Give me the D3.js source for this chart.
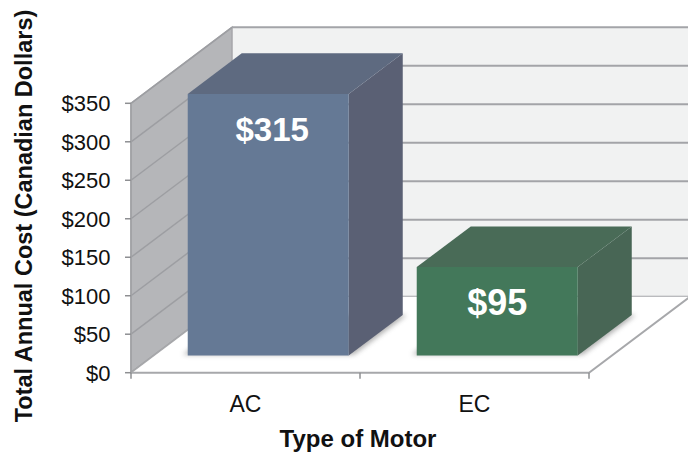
<!DOCTYPE html>
<html><head><meta charset="utf-8">
<script src="https://cdn.jsdelivr.net/npm/d3@7"></script>
<style>html,body{margin:0;padding:0;background:#fff;}svg{display:block;font-family:"Liberation Sans",Arial,Helvetica,sans-serif;}</style>
</head><body>
<script>
// ---- data ----
const categories = ["AC", "EC"];
const barValues = [340, 115];          // bar heights
const valueLabels = ["$315", "$95"];   // labels printed on the bars
const yTicks = [0, 50, 100, 150, 200, 250, 300, 350];
const yTickLabels = ["$0", "$50", "$100", "$150", "$200", "$250", "$300", "$350"];
const yTitle = "Total Annual Cost (Canadian Dollars)";
const xTitle = "Type of Motor";

const W = 688, H = 454;
const svg = d3.select("body").append("svg").attr("width", W).attr("height", H);

const x = d3.scaleBand().domain(categories).range([131, 589]).padding(0);
const y = d3.scaleLinear().domain([0, 350]).range([372.7, 103.3]);
const DX = 101, DY = -76;                 // full-depth offset
const P = (px, v, z) => [px + z * DX, y(v) + z * DY];
const poly = pts => pts.map(p => p.join(",")).join(" ");

const defs = svg.append("defs");
const f = defs.append("filter").attr("id", "sh").attr("x", "-20%").attr("y", "-20%").attr("width", "140%").attr("height", "140%");
f.append("feGaussianBlur").attr("stdDeviation", 2.5);

const x0 = x.range()[0], x1 = x.range()[1];
const vMax = y.domain()[1];

// back wall
svg.append("polygon").attr("points", poly([P(x0, 0, 1), P(x1, 0, 1), P(x1, vMax, 1), P(x0, vMax, 1)]))
  .attr("fill", "#f1f2f2");
// back wall gridlines
svg.selectAll(".bg").data(yTicks).enter().append("line")
  .attr("x1", d => P(x0, d, 1)[0]).attr("y1", d => P(x0, d, 1)[1])
  .attr("x2", d => P(x1, d, 1)[0]).attr("y2", d => P(x1, d, 1)[1])
  .attr("stroke", "#a3a4a8").attr("stroke-width", 2);

// side wall
svg.append("polygon").attr("points", poly([P(x0, 0, 0), P(x0, 0, 1), P(x0, vMax, 1), P(x0, vMax, 0)]))
  .attr("fill", "#b5b6b9").attr("stroke", "#a6a7aa").attr("stroke-width", 1.5);
svg.selectAll(".sg").data(yTicks).enter().append("line")
  .attr("x1", d => P(x0, d, 0)[0]).attr("y1", d => P(x0, d, 0)[1])
  .attr("x2", d => P(x0, d, 1)[0]).attr("y2", d => P(x0, d, 1)[1])
  .attr("stroke", "#9d9ea2").attr("stroke-width", 1.5);

// floor
svg.append("polygon").attr("points", poly([P(x0, 0, 0), P(x1, 0, 0), P(x1, 0, 1), P(x0, 0, 1)]))
  .attr("fill", "#ffffff");
svg.append("polyline").attr("points", poly([P(x0, 0, 0), P(x1, 0, 0), P(x1, 0, 1)]))
  .attr("fill", "none").attr("stroke", "#a7a8ab").attr("stroke-width", 2);
svg.append("line").attr("x1", P(x0, 0, 0)[0]).attr("y1", P(x0, 0, 0)[1])
  .attr("x2", P(x0, 0, 1)[0]).attr("y2", P(x0, 0, 1)[1]).attr("stroke", "#a7a8ab").attr("stroke-width", 1.5);

// front y axis line + ticks
svg.append("line").attr("x1", x0).attr("x2", x0).attr("y1", y(0)).attr("y2", y(vMax))
  .attr("stroke", "#9fa0a3").attr("stroke-width", 1.5);
svg.selectAll(".yt").data(yTicks).enter().append("line")
  .attr("x1", x0 - 6).attr("x2", x0).attr("y1", d => y(d)).attr("y2", d => y(d))
  .attr("stroke", "#8e8f92").attr("stroke-width", 1.5);
svg.selectAll(".ytl").data(yTicks).enter().append("text")
  .attr("x", 110.5).attr("y", d => y(d)).attr("dy", "0.36em")
  .attr("text-anchor", "end").attr("font-size", 22).attr("fill", "#111")
  .text((d, i) => yTickLabels[i]);

// x ticks at category boundaries
const bounds = categories.map(c => x(c)).concat([x1]);
svg.selectAll(".xt").data(bounds).enter().append("line")
  .attr("x1", d => d).attr("x2", d => d).attr("y1", y(0)).attr("y2", y(0) + 6)
  .attr("stroke", "#8e8f92").attr("stroke-width", 1.5);
svg.selectAll(".xtl").data(categories).enter().append("text")
  .attr("x", d => x(d) + x.bandwidth() / 2).attr("y", 412)
  .attr("text-anchor", "middle").attr("font-size", 23).attr("fill", "#111").text(d => d);

// bars
const zF = 0.225, zB = 0.76, bwFrac = 0.703;
const colors = [
  { front: "#657995", top: "#5e6a80", side: "#5a6074" },
  { front: "#43785a", top: "#496b57", side: "#486655" }
];
categories.forEach((c, i) => {
  const v = barValues[i];
  const bw = x.bandwidth() * bwFrac;
  const L = x(c) + (x.bandwidth() - bw) / 2, R = L + bw;
  const g = svg.append("g");
  // shadow on floor
  g.append("polygon").attr("points", poly([P(L - 6, 0, zF + 0.01), P(R + 4, 0, zF + 0.01), P(R + 4, 0, zB), P(L - 6, 0, zB)]))
    .attr("fill", "#6f6f6f").attr("opacity", 0.55).attr("filter", "url(#sh)");
  // side face
  g.append("polygon").attr("points", poly([P(R, 0, zF), P(R, 0, zB), P(R, v, zB), P(R, v, zF)]))
    .attr("fill", colors[i].side);
  // top face
  g.append("polygon").attr("points", poly([P(L, v, zF), P(R, v, zF), P(R, v, zB), P(L, v, zB)]))
    .attr("fill", colors[i].top);
  // front face
  g.append("polygon").attr("points", poly([P(L, 0, zF), P(R, 0, zF), P(R, v, zF), P(L, v, zF)]))
    .attr("fill", colors[i].front);
  const ft = P(L, v, zF);
  g.append("text").attr("x", (P(L, v, zF)[0] + P(R, v, zF)[0]) / 2 + (i === 0 ? 4 : 0)).attr("y", ft[1] + 47.5)
    .attr("text-anchor", "middle").attr("font-size", i === 0 ? 33 : 36).attr("font-weight", "bold")
    .attr("fill", "#ffffff").text(valueLabels[i]);
});

// titles
svg.append("text").attr("transform", "translate(31.5,216) rotate(-90)")
  .attr("text-anchor", "middle").attr("font-size", 23.5).attr("font-weight", "bold").attr("fill", "#111")
  .text(yTitle);
svg.append("text").attr("x", 358).attr("y", 447).attr("text-anchor", "middle")
  .attr("font-size", 24).attr("font-weight", "bold").attr("fill", "#111").text(xTitle);
</script>
</body></html>
